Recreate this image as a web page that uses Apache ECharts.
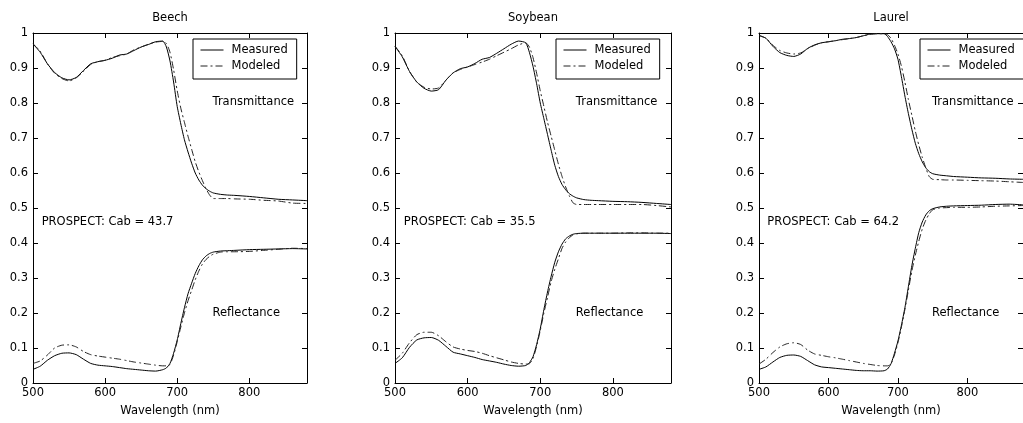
<!DOCTYPE html>
<html>
<head>
<meta charset="utf-8">
<script src="https://cdn.jsdelivr.net/npm/echarts@6/dist/echarts.min.js"></script>
<style>
html,body{margin:0;padding:0;background:#fff;}
#chart{width:1023px;height:423px;}
</style>
</head>
<body>
<div id="chart"></div>
<script>
// ---------- DATA ----------
const panelTitles = ['Beech', 'Soybean', 'Laurel'];
const prospectLabels = ['PROSPECT: Cab = 43.7', 'PROSPECT: Cab = 35.5', 'PROSPECT: Cab = 64.2'];
const curveLabels = ['Transmittance', 'Reflectance'];
const legendNames = ['Measured', 'Modeled'];
const xTicks = [500, 600, 700, 800];

const wavelengths = [500,510,520,530,540,550,560,570,580,590,600,610,620,630,640,650,660,670,680,685,690,695,700,705,710,715,720,725,730,735,740,745,750,760,770,780,800,820,840,860,880];

// Beech
const beechTMeasured = [0.969,0.945,0.912,0.887,0.872,0.866,0.873,0.893,0.912,0.918,0.922,0.928,0.937,0.940,0.950,0.960,0.967,0.975,0.977,0.960,0.920,0.860,0.790,0.740,0.695,0.660,0.628,0.600,0.580,0.565,0.555,0.548,0.543,0.539,0.537,0.536,0.533,0.529,0.525,0.523,0.521];
const beechTModeled  = [0.969,0.948,0.912,0.885,0.870,0.863,0.872,0.890,0.910,0.918,0.922,0.930,0.935,0.940,0.952,0.960,0.968,0.974,0.976,0.970,0.945,0.895,0.835,0.785,0.745,0.705,0.668,0.632,0.603,0.578,0.555,0.537,0.527,0.527,0.527,0.526,0.525,0.522,0.520,0.514,0.513];
const beechRMeasured = [0.039,0.048,0.065,0.078,0.085,0.086,0.081,0.068,0.056,0.051,0.049,0.047,0.044,0.041,0.039,0.037,0.035,0.034,0.038,0.043,0.056,0.085,0.123,0.170,0.215,0.255,0.285,0.313,0.335,0.352,0.363,0.370,0.374,0.377,0.378,0.379,0.381,0.382,0.383,0.384,0.383];
const beechRModeled  = [0.056,0.063,0.080,0.100,0.108,0.109,0.103,0.090,0.081,0.077,0.074,0.071,0.068,0.064,0.060,0.057,0.054,0.051,0.049,0.049,0.053,0.080,0.118,0.160,0.200,0.235,0.265,0.295,0.320,0.340,0.353,0.362,0.368,0.374,0.375,0.375,0.376,0.379,0.382,0.385,0.384];

// Soybean
const soyTMeasured = [0.962,0.932,0.890,0.860,0.842,0.834,0.838,0.865,0.886,0.898,0.903,0.913,0.925,0.930,0.942,0.955,0.968,0.977,0.972,0.945,0.905,0.855,0.800,0.755,0.710,0.665,0.622,0.590,0.567,0.552,0.541,0.534,0.529,0.524,0.522,0.521,0.519,0.518,0.516,0.513,0.510];
const soyTModeled  = [0.962,0.935,0.890,0.860,0.845,0.840,0.843,0.865,0.886,0.896,0.903,0.910,0.917,0.925,0.935,0.945,0.955,0.966,0.972,0.960,0.930,0.885,0.835,0.790,0.745,0.705,0.665,0.625,0.590,0.560,0.535,0.515,0.510,0.510,0.510,0.510,0.510,0.510,0.510,0.507,0.503];
const soyRMeasured = [0.056,0.072,0.102,0.123,0.129,0.130,0.122,0.105,0.088,0.083,0.078,0.073,0.067,0.063,0.059,0.054,0.050,0.048,0.050,0.058,0.075,0.110,0.155,0.210,0.260,0.305,0.345,0.375,0.397,0.412,0.420,0.425,0.427,0.428,0.428,0.428,0.428,0.428,0.428,0.428,0.427];
const soyRModeled  = [0.065,0.085,0.115,0.138,0.145,0.145,0.135,0.118,0.103,0.097,0.093,0.090,0.085,0.078,0.072,0.066,0.060,0.056,0.054,0.055,0.070,0.105,0.150,0.200,0.245,0.290,0.325,0.355,0.385,0.403,0.415,0.423,0.426,0.428,0.428,0.428,0.428,0.429,0.429,0.428,0.428];

// Laurel
const laurelTMeasured = [0.993,0.985,0.962,0.944,0.936,0.933,0.940,0.956,0.966,0.972,0.975,0.978,0.982,0.984,0.987,0.992,0.997,0.998,0.998,0.990,0.975,0.955,0.925,0.875,0.820,0.770,0.725,0.685,0.655,0.632,0.615,0.604,0.598,0.594,0.592,0.590,0.588,0.586,0.585,0.583,0.582];
const laurelTModeled  = [0.993,0.985,0.965,0.950,0.943,0.940,0.943,0.955,0.965,0.972,0.975,0.978,0.981,0.984,0.987,0.992,0.996,0.998,0.998,0.995,0.985,0.965,0.940,0.905,0.860,0.810,0.765,0.720,0.680,0.645,0.615,0.590,0.582,0.581,0.580,0.580,0.579,0.578,0.577,0.575,0.573];
const laurelRMeasured = [0.039,0.046,0.060,0.073,0.079,0.080,0.076,0.064,0.052,0.046,0.044,0.042,0.040,0.038,0.036,0.035,0.035,0.034,0.035,0.040,0.055,0.085,0.120,0.165,0.215,0.275,0.335,0.385,0.430,0.460,0.480,0.492,0.498,0.503,0.505,0.506,0.507,0.508,0.510,0.511,0.509];
const laurelRModeled  = [0.054,0.068,0.087,0.103,0.112,0.115,0.110,0.094,0.083,0.079,0.075,0.072,0.068,0.064,0.060,0.056,0.053,0.050,0.049,0.049,0.055,0.080,0.115,0.160,0.210,0.265,0.320,0.365,0.405,0.440,0.465,0.483,0.495,0.500,0.501,0.502,0.502,0.503,0.505,0.506,0.507];

const panelSeries = [
  [beechTMeasured, beechTModeled, beechRMeasured, beechRModeled],
  [soyTMeasured, soyTModeled, soyRMeasured, soyRModeled],
  [laurelTMeasured, laurelTModeled, laurelRMeasured, laurelRModeled]
];

// ---------- LAYOUT / STYLE ----------
const FONT = 'DejaVu Sans';
const FS = 11.5;
const gridsPx = [
  {left: 33, top: 33, width: 274, height: 350},
  {left: 395, top: 33, width: 276, height: 350},
  {left: 759, top: 33, width: 274, height: 350}
];
const legendPos = [{left: 193, top: 39}, {left: 556, top: 39}, {left: 920, top: 39}];
const dashDot = [7, 3, 2, 3];

const chart = echarts.init(document.getElementById('chart'), null, {renderer: 'canvas'});

const xAxes = [], yAxes = [], series = [], legends = [];
gridsPx.forEach((g, p) => {
  const tickCommon = {inside: true, length: 5, lineStyle: {color: '#000', width: 1}};
  const lineCommon = {show: true, onZero: false, lineStyle: {color: '#000', width: 1}};
  xAxes.push({
    type: 'value', gridIndex: p, position: 'bottom', min: 500, max: 880, interval: 100,
    axisLine: lineCommon, axisTick: tickCommon, splitLine: {show: false},
    axisLabel: {color: '#000', fontFamily: FONT, fontSize: FS, margin: 4, showMaxLabel: false,
      formatter: v => (xTicks.indexOf(v) >= 0 ? String(v) : '')},
    name: 'Wavelength (nm)', nameLocation: 'middle', nameGap: 22,
    nameTextStyle: {color: '#000', fontFamily: FONT, fontSize: FS}
  });
  xAxes.push({
    type: 'value', gridIndex: p, position: 'top', min: 500, max: 880, interval: 100,
    axisLine: lineCommon, axisTick: tickCommon, splitLine: {show: false},
    axisLabel: {show: false},
    name: panelTitles[p], nameLocation: 'middle', nameGap: 9,
    nameTextStyle: {color: '#000', fontFamily: FONT, fontSize: FS}
  });
  yAxes.push({
    type: 'value', gridIndex: p, position: 'left', min: 0, max: 1, interval: 0.1,
    axisLine: lineCommon, axisTick: tickCommon, splitLine: {show: false},
    axisLabel: {color: '#000', fontFamily: FONT, fontSize: FS, margin: 5}
  });
  yAxes.push({
    type: 'value', gridIndex: p, position: 'right', min: 0, max: 1, interval: 0.1,
    axisLine: lineCommon, axisTick: tickCommon, splitLine: {show: false},
    axisLabel: {show: false}
  });
  panelSeries[p].forEach((arr, k) => {
    const modeled = (k % 2 === 1);
    const col = modeled ? '#222' : '#000';
    series.push({
      name: modeled ? legendNames[1] : legendNames[0],
      type: 'line', xAxisIndex: p * 2, yAxisIndex: p * 2,
      data: wavelengths.map((w, i) => [w, arr[i]]),
      symbol: 'none', smooth: 0.2, silent: true, animation: false,
      color: col,
      itemStyle: {color: col},
      lineStyle: {color: col, width: 1, type: modeled ? dashDot : 'solid'}
    });
  });
  legends.push({
    data: legendNames, orient: 'vertical', left: legendPos[p].left, top: legendPos[p].top,
    itemWidth: 23, itemHeight: 14, itemGap: 4,
    padding: [5, 9, 7, 7],
    borderColor: '#000', borderWidth: 1, borderRadius: 0, backgroundColor: '#fff',
    selectedMode: false,
    itemStyle: {color: 'rgba(0,0,0,0)', borderWidth: 0, opacity: 0},
    lineStyle: {width: 1},
    textStyle: {color: '#000', fontFamily: FONT, fontSize: FS, padding: [0, 0, 0, 3]}
  });
});

chart.setOption({
  animation: false,
  backgroundColor: '#fff',
  grid: gridsPx.map(g => Object.assign({containLabel: false}, g)),
  xAxis: xAxes, yAxis: yAxes, series: series, legend: legends
});

// annotations placed through the axes' own scales
const graphics = [];
gridsPx.forEach((g, p) => {
  const tPos = chart.convertToPixel({gridIndex: p}, [749, 0.803]);
  const rPos = chart.convertToPixel({gridIndex: p}, [749, 0.200]);
  const pPos = chart.convertToPixel({gridIndex: p}, [512, 0.460]);
  [[curveLabels[0], tPos], [curveLabels[1], rPos], [prospectLabels[p], pPos]].forEach(([txt, pos]) => {
    graphics.push({
      type: 'text', x: pos[0], y: pos[1], z: 100,
      style: {text: txt, fill: '#000', font: FS + 'px "' + FONT + '"', textAlign: 'left', textVerticalAlign: 'middle'}
    });
  });
});
chart.setOption({graphic: graphics});
</script>
</body>
</html>
